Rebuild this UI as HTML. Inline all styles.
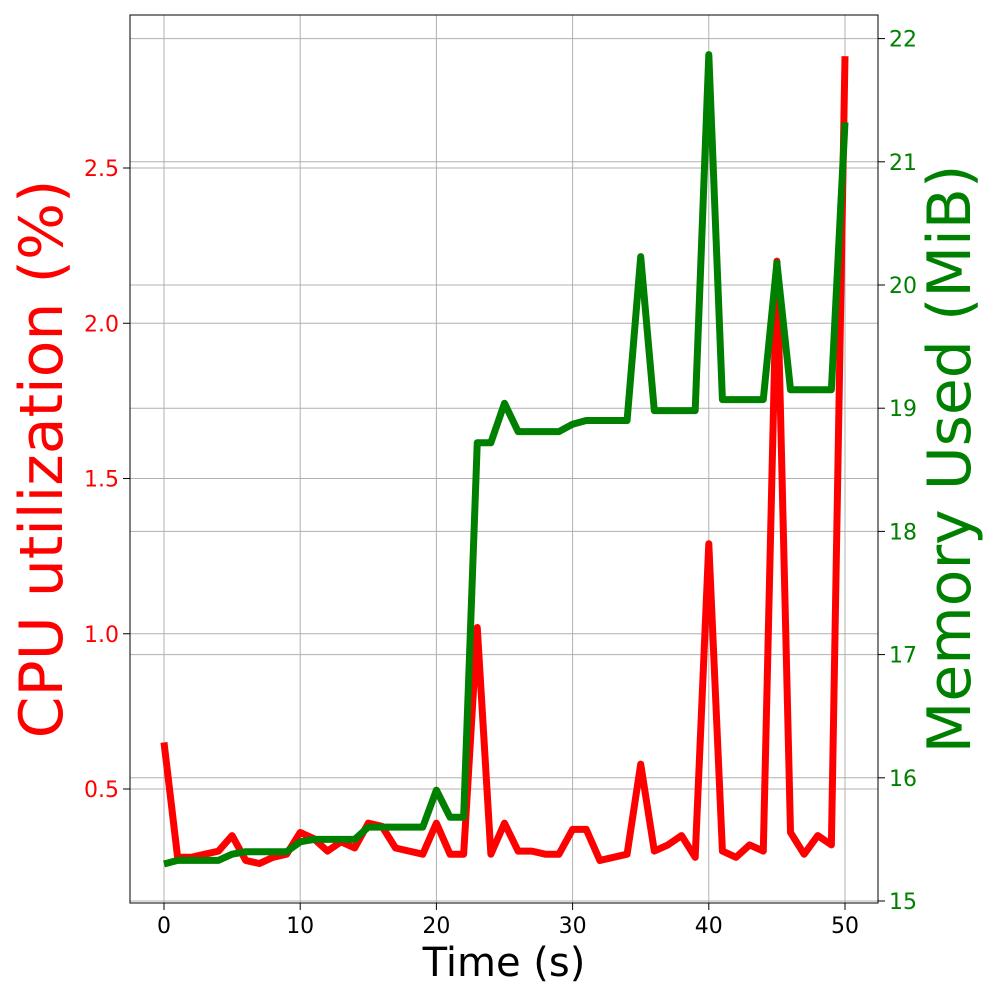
<!DOCTYPE html>
<html><head><meta charset="utf-8"><style>
html,body{margin:0;padding:0;background:#fff;}
svg{display:block;font-family:"DejaVu Sans","Liberation Sans",sans-serif;}
</style></head><body>
<svg id="chart" width="1000" height="1000" viewBox="0 0 1000 1000"></svg>
<script>
const times = Array.from({length:51},(_,i)=>i);
const cpuValues = [0.65,0.28,0.28,0.29,0.30,0.35,0.27,0.26,0.28,0.29,0.36,0.34,0.30,0.33,0.31,0.39,0.38,0.31,0.30,0.29,0.39,0.29,0.29,1.02,0.29,0.39,0.30,0.30,0.29,0.29,0.37,0.37,0.27,0.28,0.29,0.58,0.30,0.32,0.35,0.28,1.29,0.30,0.28,0.32,0.30,2.20,0.36,0.29,0.35,0.32,2.86];
const memValues = [15.30,15.33,15.33,15.33,15.33,15.38,15.40,15.40,15.40,15.40,15.48,15.50,15.50,15.50,15.50,15.60,15.60,15.60,15.60,15.60,15.90,15.68,15.68,18.72,18.72,19.04,18.81,18.81,18.81,18.81,18.87,18.90,18.90,18.90,18.90,20.23,18.98,18.98,18.98,18.98,21.87,19.07,19.07,19.07,19.07,20.18,19.15,19.15,19.15,19.15,21.32];
const xTicks = [0,10,20,30,40,50];
const cpuTicks = [0.5,1.0,1.5,2.0,2.5];
const memTicks = [15,16,17,18,19,20,21,22];

const L=130,R=878,T=15,B=903;
const X=v=>164+(v-0)*(845-164)/50;
const YC=v=>789-(v-0.5)*310.5;
const YM=v=>901-(v-15)*123.2;
const svg=document.getElementById('chart');
const NS='http://www.w3.org/2000/svg';
function mk(tag,attrs,parent){const e=document.createElementNS(NS,tag);for(const k in attrs)e.setAttribute(k,attrs[k]);(parent||svg).appendChild(e);return e;}

const grid=mk('g',{});


xTicks.forEach(t=>{const l=mk('line',{x1:X(t),x2:X(t),y1:T,y2:B,stroke:'#b0b0b0','stroke-width':1},grid);

});
cpuTicks.forEach(t=>{const l=mk('line',{x1:L,x2:R,y1:YC(t),y2:YC(t),stroke:'#b0b0b0','stroke-width':1},grid);

});
memTicks.forEach(t=>{const l=mk('line',{x1:L,x2:R,y1:YM(t),y2:YM(t),stroke:'#b0b0b0','stroke-width':1},grid);

});

const cpu=mk('polyline',{points:times.map((t,i)=>X(t)+','+YC(cpuValues[i])).join(' '),fill:'none',stroke:'#ff0000','stroke-width':7,'stroke-linejoin':'round'});


const mem=mk('polyline',{points:times.map((t,i)=>X(t)+','+YM(memValues[i])).join(' '),fill:'none',stroke:'#008000','stroke-width':7,'stroke-linejoin':'round'});



const frame=mk('rect',{x:L,y:T,width:R-L,height:B-T,fill:'none',stroke:'#000','stroke-width':1});



xTicks.forEach(t=>{mk('line',{x1:X(t),x2:X(t),y1:B,y2:B+7,stroke:'#000'});
const tx=mk('text',{x:X(t),y:B+30,'font-size':22,'text-anchor':'middle',fill:'#000'});tx.textContent=t;

});
cpuTicks.forEach(t=>{mk('line',{x1:L-7,x2:L,y1:YC(t),y2:YC(t),stroke:'#000'});
const tx=mk('text',{x:L-11,y:YC(t)+8,'font-size':22,'text-anchor':'end',fill:'#ff0000'});tx.textContent=t.toFixed(1);

});
memTicks.forEach(t=>{mk('line',{x1:R,x2:R+7,y1:YM(t),y2:YM(t),stroke:'#000'});
const tx=mk('text',{x:R+11,y:YM(t)+8,'font-size':22,'text-anchor':'start',fill:'#008000'});tx.textContent=t;

});

const xt=mk('text',{x:504,y:976,'font-size':40,'text-anchor':'middle',fill:'#000'});xt.textContent='Time (s)';


const yl=mk('text',{x:0,y:0,'font-size':60,'text-anchor':'middle',fill:'#ff0000',transform:'translate(62,459) rotate(-90)'});yl.textContent='CPU utilization (%)';


const yr=mk('text',{x:0,y:0,'font-size':60,'text-anchor':'middle',fill:'#008000',transform:'translate(970,459) rotate(-90)'});yr.textContent='Memory Used (MiB)';


</script>
</body></html>
